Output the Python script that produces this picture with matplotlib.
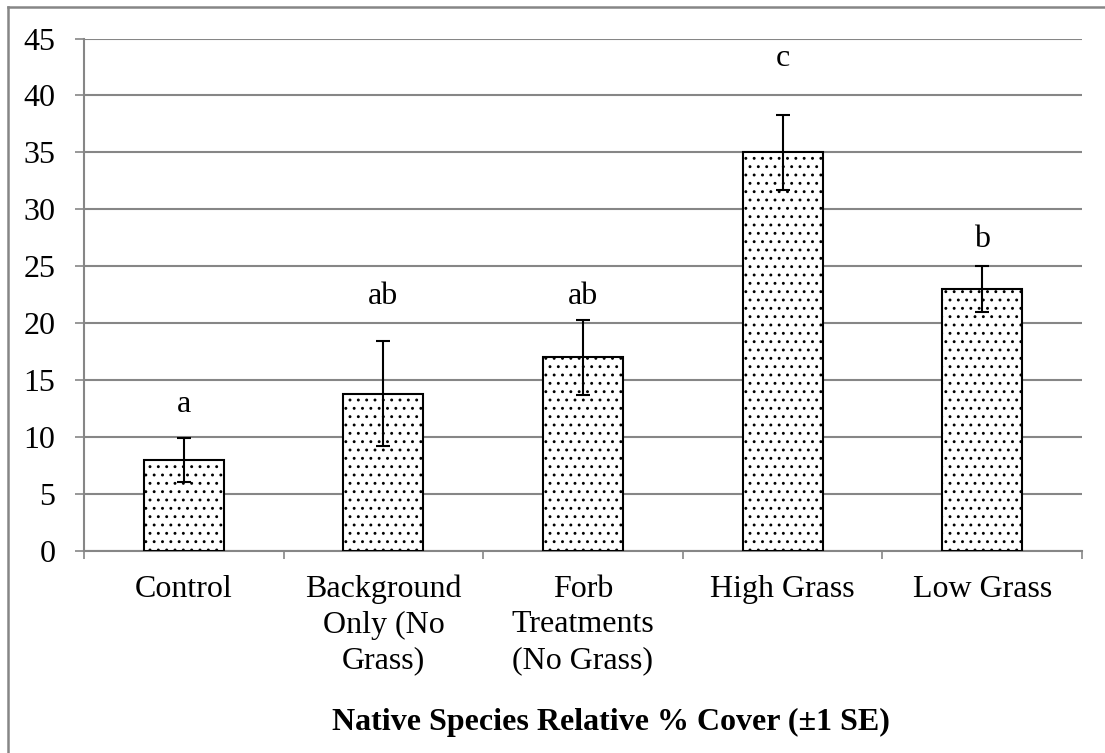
import matplotlib
matplotlib.use("Agg")
import matplotlib.pyplot as plt
from matplotlib.lines import Line2D
import numpy as np

plt.rcParams['font.family'] = ['Liberation Serif', 'DejaVu Serif']
plt.rcParams['hatch.linewidth'] = 0.9
plt.rcParams['hatch.color'] = 'black'

# Data
categories = ["Control", "Background\nOnly (No\nGrass)", "Forb\nTreatments\n(No Grass)",
              "High Grass", "Low Grass"]
cover_mean = [8.0, 13.8, 17.0, 35.0, 23.0]
cover_se = [1.9, 4.6, 3.3, 3.3, 2.05]
group_letters = ["a", "ab", "ab", "c", "b"]
letter_y = [12.2, 21.7, 21.7, 42.6, 26.7]
y_ticks = [0, 5, 10, 15, 20, 25, 30, 35, 40, 45]

W, H = 1105, 753
FS = 23
fig = plt.figure(figsize=(W / 100, H / 100), dpi=100)
ax = fig.add_axes([84 / W, 1 - 551 / H, (1082 - 84) / W, (551 - 38.5) / H])

grid_col = '#868686'
x = np.arange(len(categories))

ax.bar(x, cover_mean, width=0.4, color='white', edgecolor='black',
       linewidth=1.5, hatch='..', zorder=3)
ax.errorbar(x, cover_mean, yerr=cover_se, fmt='none', ecolor='black',
            elinewidth=1.5, capsize=5, capthick=1.5, zorder=4)

for xi, lab, ly in zip(x, group_letters, letter_y):
    ax.text(xi, ly, lab, ha='center', va='baseline', fontsize=FS)

ax.set_xlim(-0.5, len(categories) - 0.5)
ax.set_ylim(0, 45)
ax.set_yticks(y_ticks)
ax.yaxis.grid(True, color=grid_col, linewidth=1.5, zorder=0)
ax.set_axisbelow(True)

for s in ['top', 'right']:
    ax.spines[s].set_visible(False)
for s in ['left', 'bottom']:
    ax.spines[s].set_color(grid_col)
    ax.spines[s].set_linewidth(1.5)

ax.tick_params(axis='y', direction='out', length=6.5, width=1.2, color=grid_col,
               labelsize=FS, pad=14)
ax.set_xticks(x)
ax.set_xticklabels(categories, fontsize=FS, linespacing=1.3, va='top')
ax.set_xticks(np.arange(-0.5, len(categories)), minor=True)
ax.tick_params(axis='x', which='major', length=0, pad=17)
ax.tick_params(axis='x', which='minor', direction='out', length=6, width=1.2,
               color=grid_col)

fig.text(611 / W, 1 - 730 / H, "Native Species Relative % Cover (±1 SE)",
         ha='center', va='baseline', fontsize=FS, fontweight='bold')

# Chart area frame
fig.add_artist(Line2D([8 / W, 8 / W], [0, 1 - 7 / H], transform=fig.transFigure,
                      color=grid_col, linewidth=1.8))
fig.add_artist(Line2D([8 / W, 1], [1 - 7 / H, 1 - 7 / H], transform=fig.transFigure,
                      color=grid_col, linewidth=1.8))

fig.savefig("out.png", dpi=100, facecolor='white')
